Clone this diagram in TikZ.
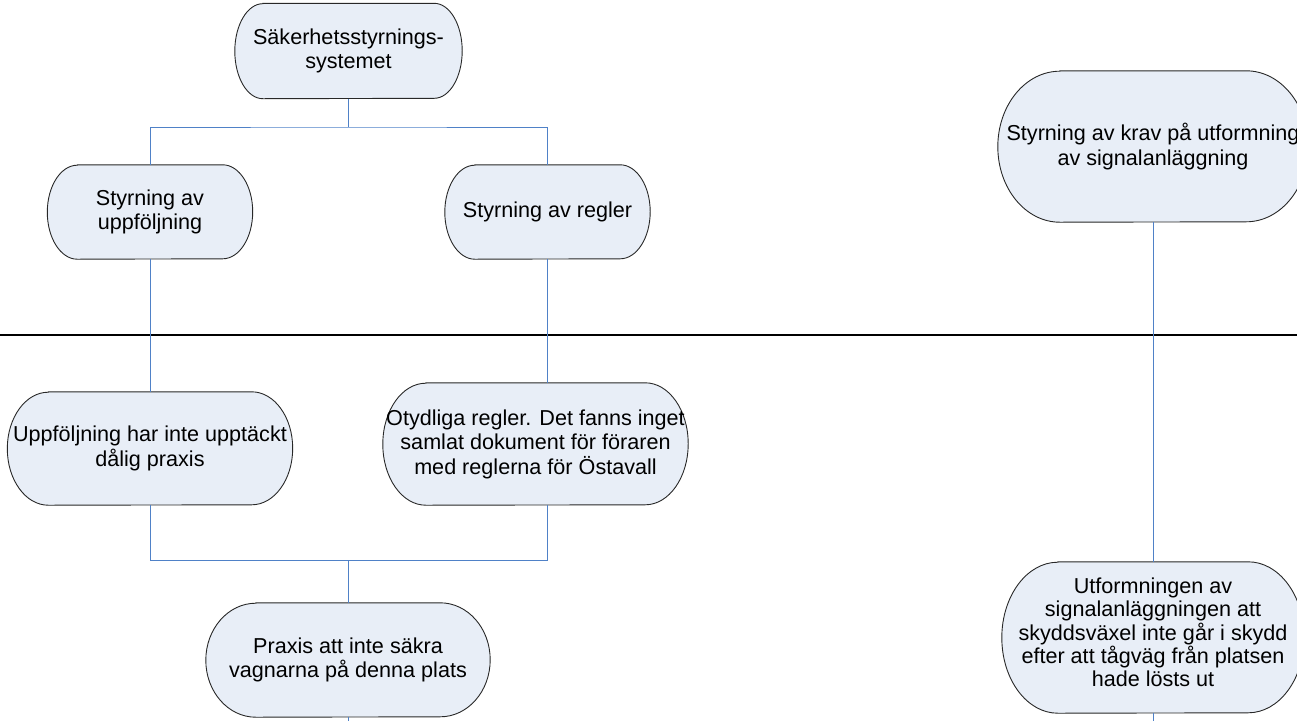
\documentclass[tikz,border=0pt]{standalone}
\usepackage{fontspec}
\setmainfont{Liberation Sans}
\usetikzlibrary{backgrounds,calc}
\definecolor{boxfill}{RGB}{232,238,247}
\definecolor{boxline}{RGB}{40,40,40}
\definecolor{conn}{RGB}{79,129,199}
\newcommand\stadiumshape[3]{%
  \draw[shapeline] ($(#1.north west)+(#2pt,0pt)$) -- ($(#1.north east)+(-#2pt,0pt)$)
    arc[start angle=90,end angle=-90,x radius=#2pt,y radius=#3pt]
    -- ($(#1.south west)+(#2pt,0pt)$)
    arc[start angle=270,end angle=90,x radius=#2pt,y radius=#3pt] -- cycle;}
\begin{document}
\begin{tikzpicture}[x=1pt,y=-1pt,
  box/.style={inner sep=0pt, align=center, font=\fontsize{21.6}{24.5}\selectfont, text=black},
  tightbox/.style={box, font=\fontsize{21.6}{23.3}\selectfont},
  link/.style={draw=conn, line width=1pt},
  divider/.style={draw=black, line width=1.2pt},
  shapeline/.style={draw=boxline, fill=boxfill, line width=0.9pt}]
\useasboundingbox (0,0) rectangle (1297,721);
\node[box, minimum width=227pt, minimum height=95pt] (sms) at (348.5,51) {Säkerhetsstyrnings-\\systemet};
\node[box, minimum width=205pt, minimum height=94pt] (upp) at (150,212) {Styrning av\\uppföljning};
\node[box, minimum width=205pt, minimum height=94pt] (reg) at (547.5,212) {Styrning av regler};
\node[box, minimum width=310pt, minimum height=151pt] (krav) at (1153,146.5) {Styrning av krav på utformning\\av signalanläggning};
\node[box, minimum width=285pt, minimum height=113pt] (uppf) at (150,448.5) {Uppföljning har inte upptäckt\\dålig praxis};
\node[box, minimum width=305pt, minimum height=122pt] (otyd) at (535.5,444) {Otydliga regler. Det fanns inget\\samlat dokument för föraren\\med reglerna för Östavall};
\node[box, minimum width=284pt, minimum height=114pt] (prax) at (348,660) {Praxis att inte säkra\\vagnarna på denna plats};
\node[box, minimum width=302pt, minimum height=151pt,
  label={[tightbox, name=utftext, yshift=5pt]center:{Utformningen av\\signalanläggningen att\\skyddsväxel inte går i skydd\\efter att tågväg från platsen\\hade lösts ut}}] (utf) at (1153,637.5) {};
\coordinate (dl) at (0,335);
\coordinate (dr) at (1297,335);
\coordinate (jtop) at (348.5,127);
\coordinate (jbot) at (348,560);
\coordinate (e1) at (348,721);
\coordinate (e2) at (1153,721);
\begin{scope}[on background layer]
\draw[divider] (dl) -- (dr);
\stadiumshape{sms}{28}{47.5}
\stadiumshape{upp}{30}{47}
\stadiumshape{reg}{30}{47}
\stadiumshape{krav}{62}{75.5}
\stadiumshape{uppf}{41}{56.5}
\stadiumshape{otyd}{43}{61}
\stadiumshape{prax}{50}{57}
\stadiumshape{utf}{56}{75.5}
\end{scope}
\draw[link] (sms.south) -- (jtop);
\draw[link] (upp.north) |- (jtop) -| (reg.north);
\draw[link] (upp.south) -- (uppf.north);
\draw[link] (reg.south) -- (reg.south |- otyd.north);
\draw[link] (uppf.south) |- (jbot) -| (otyd.south -| reg.south);
\draw[link] (jbot) -- (prax.north);
\draw[link] (prax.south) -- (e1);
\draw[link] (krav.south) -- (utf.north);
\draw[link] (utf.south) -- (e2);
\end{tikzpicture}
\end{document}
